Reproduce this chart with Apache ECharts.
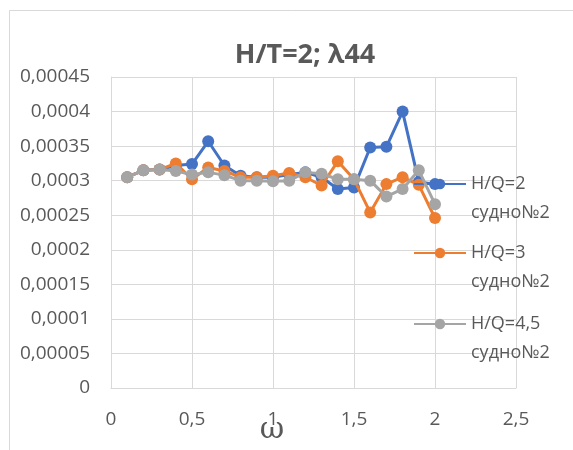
<!DOCTYPE html>
<html>
<head>
<meta charset="utf-8">
<script src="https://cdn.jsdelivr.net/npm/echarts@6/dist/echarts.min.js"></script>
<style>
  html, body { margin: 0; padding: 0; background: #fff; }
  #chart { width: 573px; height: 450px; }
</style>
</head>
<body>
<div id="chart"></div>
<script>
// Frequency ω
const omega = [0.1, 0.2, 0.3, 0.4, 0.5, 0.6, 0.7, 0.8, 0.9, 1.0,
               1.1, 1.2, 1.3, 1.4, 1.5, 1.6, 1.7, 1.8, 1.9, 2.0];

// λ44 values for each H/Q ratio
const hq2 = [0.000305, 0.000315, 0.000316, 0.000322, 0.000324, 0.000357, 0.000322, 0.000307, 0.000305, 0.000305,
             0.000309, 0.000312, 0.000305, 0.000288, 0.000290, 0.000348, 0.000349, 0.000400, 0.000298, 0.000295];
const hq3 = [0.000305, 0.000315, 0.000316, 0.000325, 0.000302, 0.000319, 0.000314, 0.000305, 0.000305, 0.000307,
             0.000311, 0.000305, 0.000293, 0.000328, 0.000302, 0.000254, 0.000295, 0.000305, 0.000294, 0.000246];
const hq45 = [0.000305, 0.000315, 0.000316, 0.000314, 0.000309, 0.000312, 0.000308, 0.000300, 0.000300, 0.000299,
              0.000300, 0.000312, 0.000310, 0.000302, 0.000302, 0.000300, 0.000277, 0.000288, 0.000315, 0.000266];

const seriesNames = ['H/Q=2 судно№2', 'H/Q=3 судно№2', 'H/Q=4,5 судно№2'];
const seriesValues = [hq2, hq3, hq45];
const seriesColors = ['#4472C4', '#ED7D31', '#A5A5A5'];

const xTicks = { min: 0, max: 2.5, interval: 0.5 };
const yTicks = { min: 0, max: 0.00045, interval: 0.00005 };

const FONT = '"Open Sans", "Noto Sans", sans-serif';
const TEXT = '#595959';
const GRID = '#d9d9d9';

const comma = v => String(v).replace('.', ',');
const fmtY = v => {
  let s = v.toFixed(5).replace(/0+$/, '').replace(/\.$/, '');
  return s.replace('.', ',');
};

const chart = echarts.init(document.getElementById('chart'), null, { renderer: 'canvas' });

const legendTops = [140.5, 209.5, 280.5];

chart.setOption({
  animation: false,
  backgroundColor: '#fff',
  graphic: [{
    type: 'rect',
    shape: { x: 9.5, y: 10.5, width: 700, height: 600 },
    style: { fill: null, stroke: GRID, lineWidth: 1 },
    silent: true,
    z: -10
  }],
  title: {
    text: 'H/T=2; λ44',
    left: 300,
    top: 37,
    textAlign: 'center',
    textStyle: { fontFamily: FONT, fontSize: 27, fontWeight: 'bold', color: TEXT }
  },
  grid: { left: 111, right: 57, top: 77, bottom: 62, containLabel: false, outerBoundsMode: 'none' },
  xAxis: {
    type: 'value',
    min: xTicks.min, max: xTicks.max, interval: xTicks.interval,
    name: 'ω',
    nameLocation: 'middle',
    nameGap: 27,
    nameMoveOverlap: false,
    nameTextStyle: { fontFamily: '"DejaVu Serif", serif', fontSize: 30, color: TEXT, padding: [0, 83, 0, 0] },
    axisLine: { show: true, lineStyle: { color: GRID, width: 1 } },
    axisTick: { show: false },
    splitLine: { show: true, lineStyle: { color: GRID, width: 1 } },
    axisLabel: { margin: 22, fontFamily: FONT, fontSize: 19, color: TEXT, formatter: v => comma(v) }
  },
  yAxis: {
    type: 'value',
    min: yTicks.min, max: yTicks.max, interval: yTicks.interval,
    axisLine: { show: true, lineStyle: { color: GRID, width: 1 } },
    axisTick: { show: false },
    splitLine: { show: true, lineStyle: { color: GRID, width: 1 } },
    axisLabel: { margin: 21, fontFamily: FONT, fontSize: 19, color: TEXT, formatter: fmtY }
  },
  legend: seriesNames.map((n, i) => ({
    data: [n],
    orient: 'vertical',
    left: 413,
    top: legendTops[i],
    padding: 0,
    itemGap: 0,
    itemWidth: 52,
    itemHeight: 13,
    // leading empty line keeps the symbol level with the first text line
    formatter: name => '\n' + name.replace(' ', '\n'),
    textStyle: { fontFamily: FONT, fontSize: 18, color: TEXT, lineHeight: 29 }
  })),
  series: seriesNames.map((n, i) => ({
    name: n,
    type: 'line',
    data: omega.map((x, k) => [x, seriesValues[i][k]]),
    symbol: 'circle',
    symbolSize: 12,
    color: seriesColors[i],
    lineStyle: { width: 3, color: seriesColors[i] },
    itemStyle: { color: seriesColors[i] },
    z: 2 + i
  }))
});
</script>
</body>
</html>
